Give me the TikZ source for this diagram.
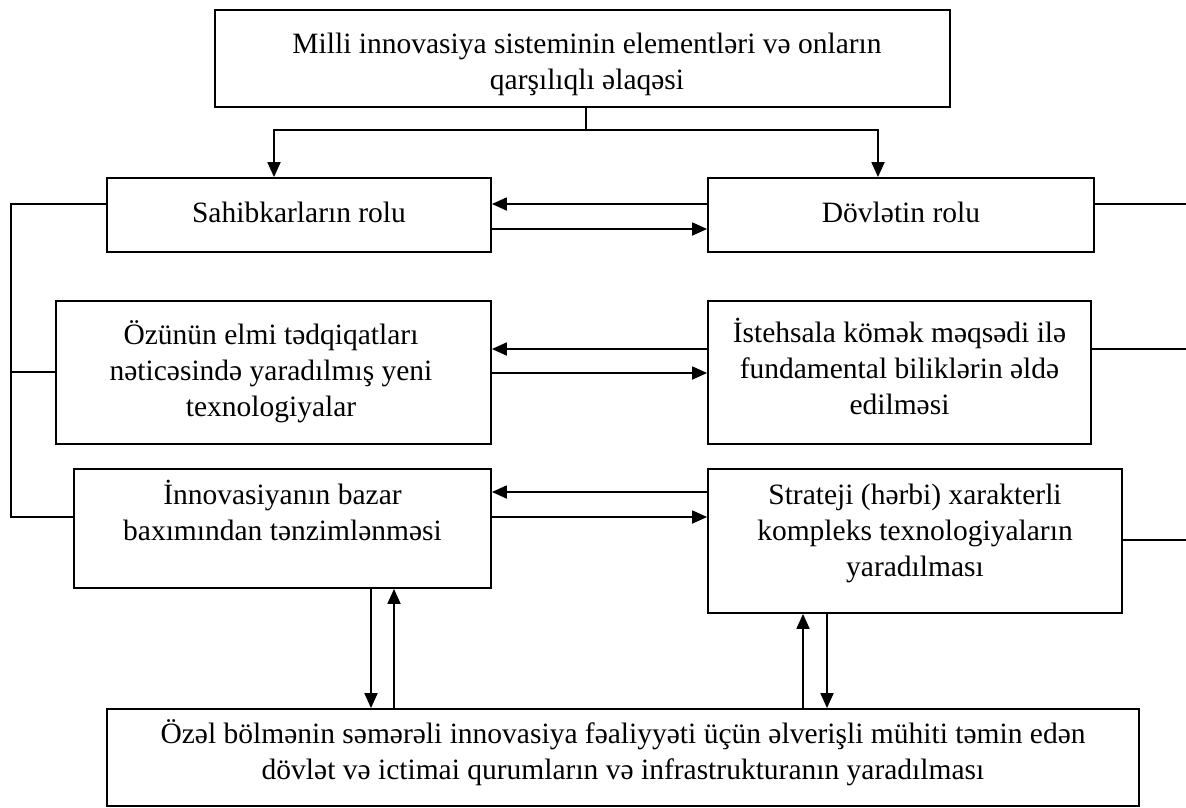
\documentclass[tikz,border=0pt]{standalone}
\usepackage{fontspec}
\setmainfont{Liberation Serif}
\usetikzlibrary{arrows.meta}
\begin{document}
\begin{tikzpicture}[x=1pt,y=-1pt,
  box/.style={draw, line width=1.8pt, inner sep=0pt},
  txt/.style={align=center, anchor=north, inner sep=0pt, font=\fontsize{29.5}{36}\selectfont},
  conn/.style={line width=1.8pt},
  thinconn/.style={line width=1.2pt},
  arr/.style={line width=1.8pt, -{Triangle[length=15pt,width=13pt]}}]
\useasboundingbox (0,0) rectangle (1186,807);
% boxes
\node[box, minimum width=735pt, minimum height=97pt] (top) at (582.5,58.5) {};
\node[box, minimum width=384pt, minimum height=74pt] (sah) at (299,215) {};
\node[box, minimum width=386pt, minimum height=74pt] (dov) at (901,215) {};
\node[box, minimum width=435pt, minimum height=143pt] (ozu) at (273.5,372.5) {};
\node[box, minimum width=383pt, minimum height=143pt] (ist) at (899.5,372.5) {};
\node[box, minimum width=417pt, minimum height=119pt] (inn) at (282.5,528.5) {};
\node[box, minimum width=414pt, minimum height=144pt] (str) at (915,541) {};
\node[box, minimum width=1032pt, minimum height=97pt] (bot) at (623,757.5) {};
% texts
\node[txt] (ttop) at (587,28.5) {\strut Milli innovasiya sisteminin elementləri və onların\\qarşılıqlı əlaqəsi};
\node[txt] (tsah) at (299,197.5) {\strut Sahibkarların rolu};
\node[txt] (tdov) at (901,197.5) {\strut Dövlətin rolu};
\node[txt] (tozu) at (271,319.5) {\strut Özünün elmi tədqiqatları\\nəticəsində yaradılmış yeni\\texnologiyalar};
\node[txt] (tist) at (899.5,317.5) {\strut İstehsala kömək məqsədi ilə\\fundamental biliklərin əldə\\edilməsi};
\node[txt] (tinn) at (282.5,479.5) {\strut İnnovasiyanın bazar\\baxımından tənzimlənməsi};
\node[txt] (tstr) at (915,479.5) {\strut Strateji (hərbi) xarakterli\\kompleks texnologiyaların\\yaradılması};
\node[txt] (tbot) at (623,718.5) {\strut Özəl bölmənin səmərəli innovasiya fəaliyyəti üçün əlverişli mühiti təmin edən\\dövlət və ictimai qurumların və infrastrukturanın yaradılması};
% top split
\coordinate (sp) at (586,130);
\draw[thinconn] (top.south -| sp) -- (sp);
\draw[arr] (sp) -| (sah.north -| 274,0);
\draw[arr] (sp) -| (dov.north -| 878,0);
% left bracket
\coordinate (l1) at (11,204);
\coordinate (l2) at (11,372);
\coordinate (l3) at (11,517);
\draw[conn] (sah.west |- l1) -- (l1) -- (l3) -- (inn.west |- l3);
\draw[conn] (ozu.west |- l2) -- (l2);
% right lines
\coordinate (r1) at (1186,204);
\coordinate (r2) at (1186,349);
\coordinate (r3) at (1186,540);
\draw[conn] (dov.east |- r1) -- (r1);
\draw[conn] (ist.east |- r2) -- (r2);
\draw[conn] (str.east |- r3) -- (r3);
% horizontal arrows
\draw[arr] (dov.west |- 0,204) -- (sah.east |- 0,204);
\draw[arr] (sah.east |- 0,229) -- (dov.west |- 0,229);
\draw[arr] (ist.west |- 0,349) -- (ozu.east |- 0,349);
\draw[arr] (ozu.east |- 0,373) -- (ist.west |- 0,373);
\draw[arr] (str.west |- 0,492) -- (inn.east |- 0,492);
\draw[arr] (inn.east |- 0,517) -- (str.west |- 0,517);
% vertical arrows
\draw[arr] (inn.south -| 371,0) -- (bot.north -| 371,0);
\draw[arr] (bot.north -| 394,0) -- (inn.south -| 394,0);
\draw[arr] (bot.north -| 803,0) -- (str.south -| 803,0);
\draw[arr] (str.south -| 827,0) -- (bot.north -| 827,0);
\end{tikzpicture}
\end{document}
